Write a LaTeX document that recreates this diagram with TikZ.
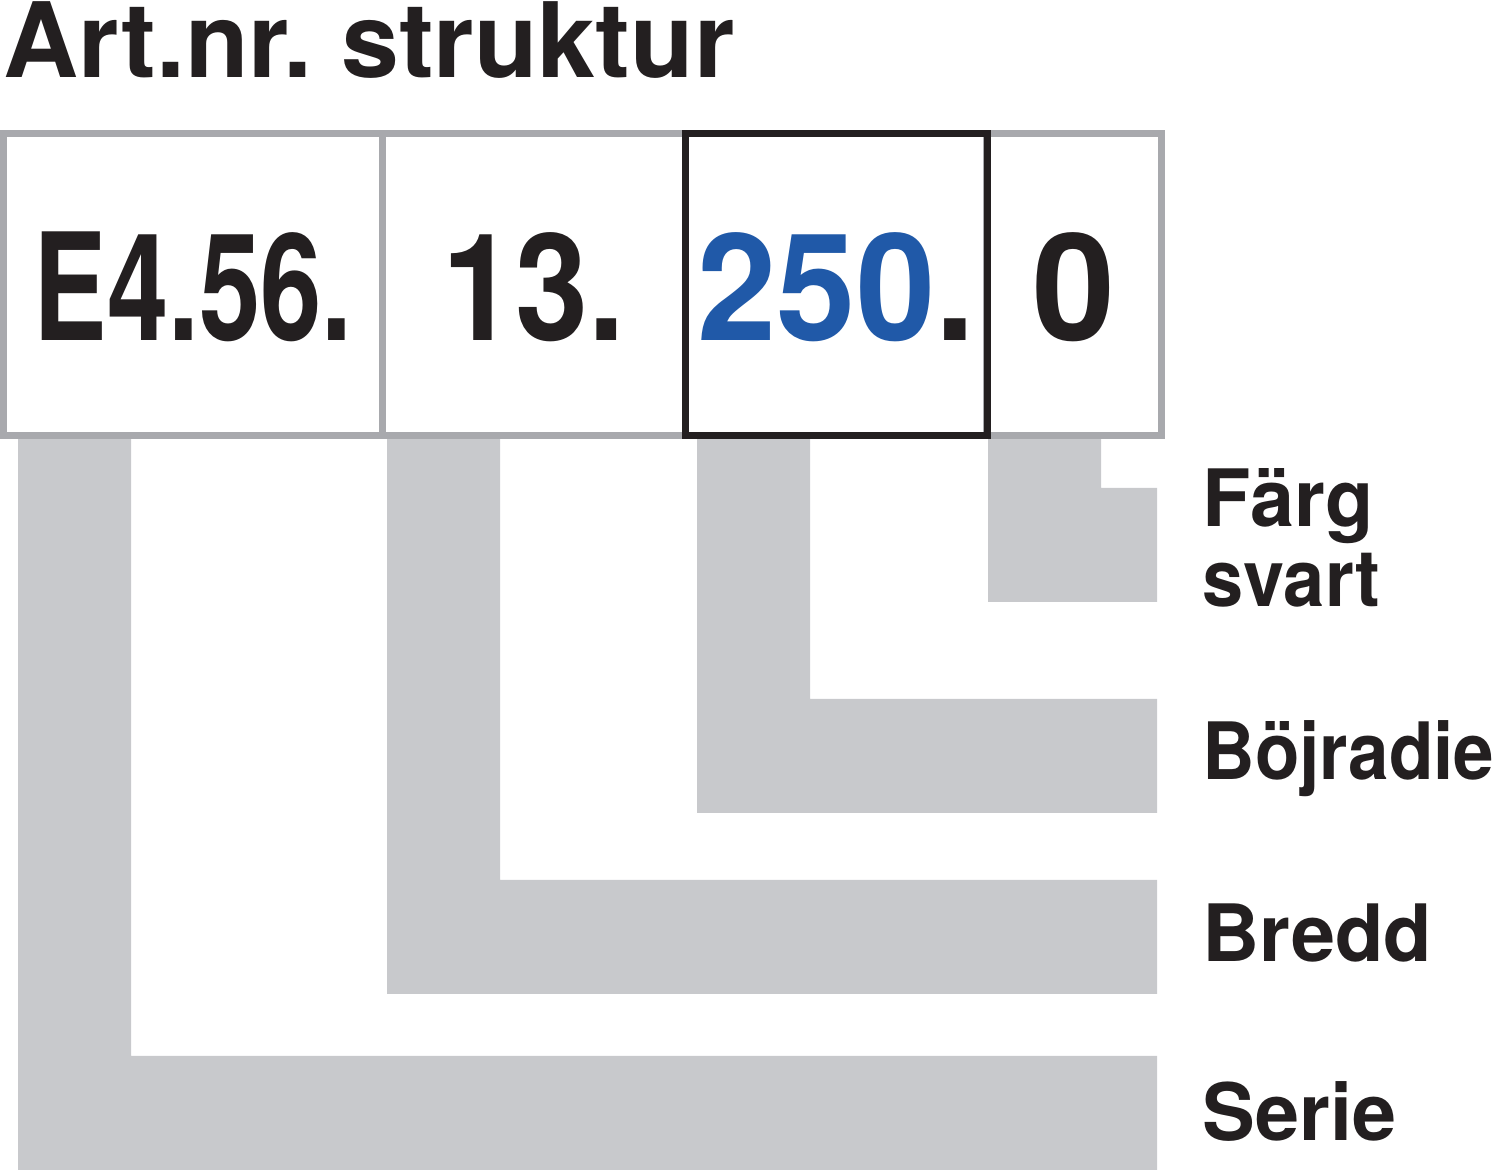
\documentclass[tikz,border=0pt]{standalone}
\usepackage{fontspec}
\setmainfont{TeX Gyre Heros}
\usepackage{graphicx}

\definecolor{boxgray}{RGB}{168,169,173}
\definecolor{bargray}{RGB}{200,201,204}
\definecolor{digitblue}{RGB}{32,89,168}
\definecolor{inkblack}{RGB}{35,31,32}

\tikzset{
  cell/.style={draw=boxgray, line width=2pt, inner sep=0pt, outer sep=0pt,
    minimum height=3.015cm, text height=1.115cm, text depth=0pt,
    font=\fontsize{42.4}{48}\selectfont\bfseries, text=inkblack},
  partlabel/.style={anchor=base west, inner sep=0pt,
    font=\fontsize{22.5}{27}\selectfont\bfseries, text=inkblack},
}

\begin{document}
\begin{tikzpicture}[x=0.01cm, y=-0.01cm]
  \useasboundingbox (0,0) rectangle (1500,1171);
  \node[anchor=base west, inner sep=0pt, font=\fontsize{29.6}{34}\selectfont\bfseries, text=inkblack]
    (title) at (3,78) {Art.nr.\ struktur};
  % gray bars from each part of the number to its label
  \foreach \bx/\by in {18/1056, 387/880, 697/699, 988/488} {
    \fill[bargray] (\bx,435) -- (\bx+113,435) |- (1157,\by)
      -- (1157,\by+114) -- (\bx,\by+114) -- cycle;
  }
  \node[cell, minimum width=3.79cm] (seriebox) at (193,284.25) {\scalebox{0.74}[1]{E4.56.}};
  \node[cell, minimum width=3.03cm] (breddbox) at (534,284.25) {\scalebox{0.88}[1]{13.}};
  \node[cell, minimum width=1.745cm] (fargbox) at (1074.25,284.25) {0};
  \node[cell, draw=inkblack, minimum width=3.015cm] (radiebox) at (836.25,284.25)
    {\scalebox{0.955}[1]{\textcolor{digitblue}{250}.}};
  \node[partlabel] (farg) at (1202,527) {Färg};
  \node[partlabel] (svart) at (1202,607) {\scalebox{0.935}[1]{svart}};
  \node[partlabel] (radie) at (1202,780) {\scalebox{0.92}[1]{Böjradie}};
  \node[partlabel] (bredd) at (1202,962) {Bredd};
  \node[partlabel] (serie) at (1202,1140) {Serie};
\end{tikzpicture}
\end{document}
